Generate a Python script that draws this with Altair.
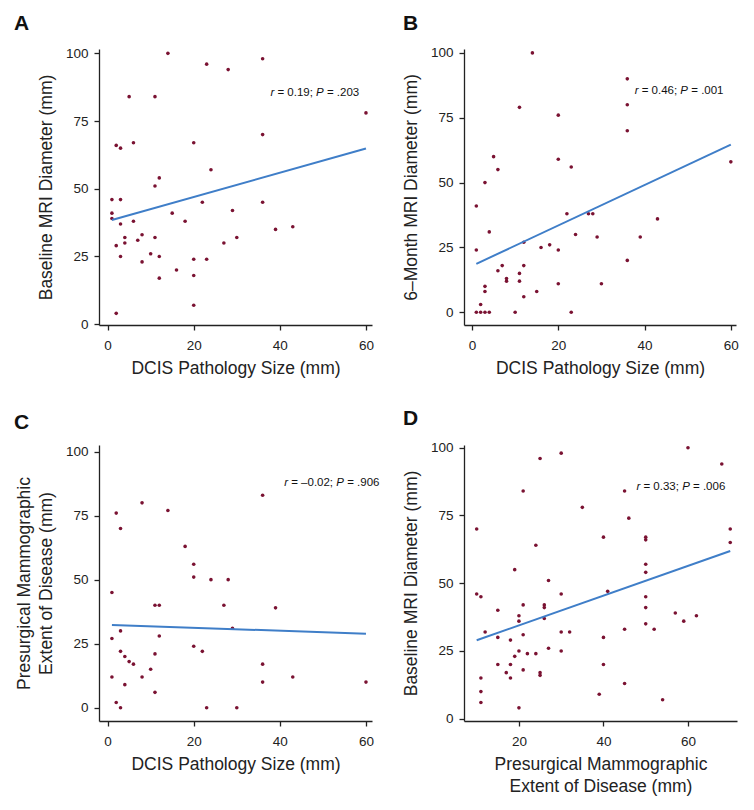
import altair as alt
import pandas as pd

# ---------------- data ----------------
# Panel A: DCIS pathology size vs baseline MRI diameter
a_x = [14, 36, 23, 28, 5, 11, 60, 36, 2, 3, 6, 20, 24, 12, 11, 1, 3, 22, 36, 1, 15, 29,
       1, 3, 6, 18, 39, 43, 4, 8, 11, 30, 4, 7, 27, 2, 3, 10, 12, 8, 20, 23, 16, 20, 12, 20, 2]
a_y = [100, 98, 96, 94, 84, 84, 78, 70, 66, 65, 67, 67, 57, 54, 51, 46, 46, 45, 45, 41, 41, 42,
       39, 37, 38, 38, 35, 36, 32, 33, 32, 32, 30, 31, 30, 29, 25, 26, 25, 23, 24, 24, 20, 18, 17, 7, 4]

# Panel B: DCIS pathology size vs 6-month MRI diameter
b_x = [14, 36, 36, 36, 11, 20, 5, 6, 20, 23, 60, 3, 1, 22, 27, 28, 43, 4, 24, 29, 39, 12,
       18, 16, 1, 20, 36, 7, 12, 6, 11, 8, 8, 11, 20, 30, 3, 3, 15, 12, 2, 1, 2, 3, 4, 10, 23]
b_y = [100, 90, 80, 70, 79, 76, 60, 55, 59, 56, 58, 50, 41, 38, 38, 38, 36, 31, 30, 29, 29, 27,
       26, 25, 24, 24, 20, 18, 18, 16, 15, 13, 12, 12, 11, 11, 10, 8, 8, 6, 3, 0, 0, 0, 0, 0, 0]

# Panel C: DCIS pathology size vs presurgical mammographic extent
c_x = [36, 8, 2, 14, 3, 18, 20, 20, 24, 28, 1, 11, 12, 27, 39, 29, 3, 1, 12, 20, 22, 3,
       4, 5, 6, 11, 36, 10, 1, 8, 43, 4, 36, 60, 11, 2, 3, 23, 30]
c_y = [83, 80, 76, 77, 70, 63, 56, 51, 50, 50, 45, 40, 40, 40, 39, 31, 30, 27, 28, 24, 22, 22,
       20, 18, 17, 21, 17, 15, 12, 12, 12, 9, 10, 10, 6, 2, 0, 0, 0]

# Panel D: presurgical mammographic extent vs baseline MRI diameter
d_x = [60, 30, 25, 68, 21, 45, 35, 46, 10, 70, 40, 50, 50, 70, 24, 50, 50, 19, 27, 41, 10, 11,
       30, 50, 21, 26, 26, 50, 15, 20, 57, 62, 26, 20, 59, 50, 12, 30, 32, 45, 52, 21, 15, 40,
       18, 27, 20, 30, 19, 22, 24, 15, 18, 40, 17, 21, 25, 25, 11, 18, 45, 11, 39, 54, 11, 20]
d_y = [100, 98, 96, 94, 84, 84, 78, 74, 70, 70, 67, 67, 66, 65, 64, 57, 54, 55, 51, 47, 46, 45,
       46, 45, 42, 42, 41, 41, 40, 38, 39, 38, 37, 36, 36, 35, 32, 32, 32, 33, 33, 31, 30, 30,
       29, 26, 25, 25, 23, 24, 24, 20, 20, 20, 17, 18, 17, 16, 15, 15, 13, 10, 9, 7, 6, 4]

# annotation values (r, P)
a_r, a_p = "0.19", ".203"
b_r, b_p = "0.46", ".001"
c_r, c_p = "\u20130.02", ".906"
d_r, d_p = "0.33", ".006"

x_title_dcis = "DCIS Pathology Size (mm)"
x_title_mammo = ["Presurgical Mammographic", "Extent of Disease (mm)"]
y_title_a = "Baseline MRI Diameter (mm)"
y_title_b = "6\u2013Month MRI Diameter (mm)"
y_title_c = ["Presurgical Mammographic", "Extent of Disease (mm)"]
y_title_d = "Baseline MRI Diameter (mm)"

ticks_x_dcis = [0, 20, 40, 60]
ticks_x_mammo = [20, 40, 60]
ticks_y = [0, 25, 50, 75, 100]

# ---------------- styling ----------------
PT = "#7a1232"
LN = "#3f7ec8"
FONT = "Liberation Sans"
INK = "#222222"
ANN_SIZE = 11.5

# Arial / Liberation Sans advance widths (em) for annotation layout
W = {" ": .278, "=": .584, ".": .278, ";": .278, "\u2013": .556, "r": .333, "P": .667}
for ch in "0123456789":
    W[ch] = .556


def tw(s):
    return sum(W.get(ch, .556) for ch in s) * ANN_SIZE


def annotation(r, p, ax, ay, xenc, yenc):
    df = pd.DataFrame({"x": [ax], "y": [ay]})
    parts = [("r", "italic"), ("= " + r + ";", "normal"), ("P", "italic"), ("= " + p, "normal")]
    prefixes = ["", "r ", "r = " + r + "; ", "r = " + r + "; P "]
    layers = []
    for (txt, style), pre in zip(parts, prefixes):
        layers.append(
            alt.Chart(df).mark_text(
                text=txt, align="left", baseline="middle", dx=tw(pre),
                font=FONT, fontSize=ANN_SIZE, fontStyle=style, color="#111111",
            ).encode(x=xenc, y=yenc)
        )
    return layers


def panel(xs, ys, xdom, ydom, w, h, xticks, xtitle, ytitle, letter, letter_dx,
          r, p, ax, ay):
    df = pd.DataFrame({"x": xs, "y": ys})
    xenc = alt.X("x:Q", scale=alt.Scale(domain=xdom, nice=False, zero=False),
                 axis=alt.Axis(values=xticks, title=xtitle, orient="bottom"))
    yenc = alt.Y("y:Q", scale=alt.Scale(domain=ydom, nice=False, zero=False),
                 axis=alt.Axis(values=ticks_y, title=ytitle, orient="left"))
    pts = alt.Chart(df).mark_circle(size=13, color=PT, opacity=1).encode(x=xenc, y=yenc)
    line = alt.Chart(df).transform_regression("x", "y").mark_line(
        color=LN, strokeWidth=2).encode(x=xenc, y=yenc)
    layers = [pts, line] + annotation(r, p, ax, ay, xenc, yenc)
    return alt.layer(*layers).properties(
        width=w, height=h,
        title=alt.TitleParams(text=letter, anchor="start", frame="group", dx=letter_dx,
                              fontSize=21, fontWeight="bold", font=FONT, color="#111111",
                              offset=12),
    )


A = panel(a_x, a_y, [-2, 61.4], [-0.3, 101.6], 273, 276, ticks_x_dcis, x_title_dcis,
          y_title_a, "A", -85, a_r, a_p, 37.8, 85.3)
B = panel(b_x, b_y, [-1.86, 61.2], [-4.9, 101.5], 272, 276, ticks_x_dcis, x_title_dcis,
          y_title_b, "B", -61, b_r, b_p, 37.7, 85.5)
C = panel(c_x, c_y, [-2, 61.4], [-5.2, 102.6], 273, 276, ticks_x_dcis, x_title_dcis,
          y_title_c, "C", -85, c_r, c_p, 41.0, 87.7)
D = panel(d_x, d_y, [7, 71.6], [-0.85, 101], 273, 276, ticks_x_mammo, x_title_mammo,
          y_title_d, "D", -61, d_r, d_p, 47.8, 85.6)

row1 = alt.hconcat(A, B, spacing=28)
row2 = alt.hconcat(C, D, spacing=22)

chart = alt.vconcat(row1, row2, spacing=30).properties(
    padding={"left": 6, "top": 4, "right": 4, "bottom": 4},
    background="white",
).configure_view(stroke=None).configure_axis(
    grid=False,
    domainColor=INK, domainWidth=1.3,
    tickColor=INK, tickWidth=1.3, tickSize=5,
    labelFont=FONT, labelFontSize=13.5, labelColor=INK,
    titleFont=FONT, titleFontSize=17.5, titleFontWeight="normal", titleColor=INK,
    titleLineHeight=22,
).configure_axisX(labelPadding=8, titlePadding=8).configure_axisY(
    labelPadding=6, titlePadding=10)

chart.save("out.html", embed_options={"renderer": "svg", "actions": False})
